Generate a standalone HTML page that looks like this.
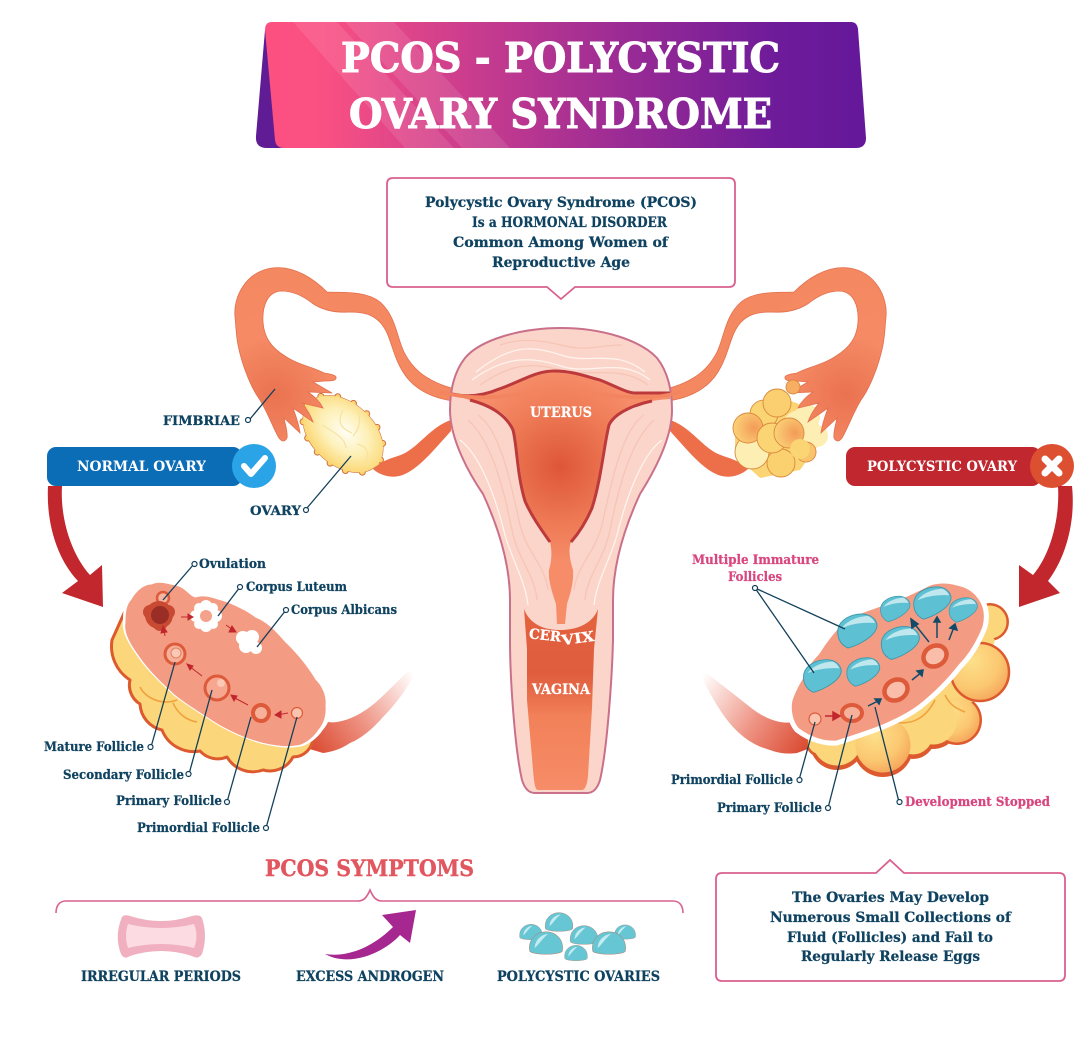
<!DOCTYPE html>
<html><head><meta charset="utf-8"><style>
html,body{margin:0;padding:0;background:#fff}
svg{display:block}
text{font-family:"DejaVu Serif","Liberation Serif",serif;font-weight:700}
.d{fill:#0f4260;font-size:13px;stroke:#0f4260;stroke-width:.25}
.b{fill:#0f4260;font-size:14px;stroke:#0f4260;stroke-width:.25}
.w{fill:#fff;font-size:14px;stroke:#fff;stroke-width:.25}
.p{fill:#d9467f;font-size:13px;stroke:#d9467f;stroke-width:.25}
.l{stroke:#12405a;stroke-width:1.3;fill:none}
.c{stroke:#12405a;stroke-width:1.2;fill:#fff}
.f{stroke:#f6c5b6;stroke-width:1.3;fill:none}
.g{stroke:#fff3ee;stroke-width:1.3;fill:none}
</style></head><body>
<svg width="1079" height="1052" viewBox="0 0 1079 1052" xmlns="http://www.w3.org/2000/svg">
<defs>
<linearGradient id="ban" x1="0" x2="1" y1="0" y2="0"><stop offset="0" stop-color="#fc5080"/><stop offset=".1" stop-color="#f95083"/><stop offset=".35" stop-color="#c83c8e"/><stop offset=".6" stop-color="#9a2b95"/><stop offset=".85" stop-color="#6e1b9a"/><stop offset="1" stop-color="#64189a"/></linearGradient>
<radialGradient id="cav" gradientUnits="userSpaceOnUse" cx="560" cy="467" r="95"><stop offset="0" stop-color="#de5637"/><stop offset=".6" stop-color="#ee7a55"/><stop offset="1" stop-color="#f68c68"/></radialGradient>
<linearGradient id="vag" x1="0" x2="0" y1="0" y2="1"><stop offset="0" stop-color="#e4633f"/><stop offset=".35" stop-color="#df5c3d"/><stop offset=".6" stop-color="#f28159"/><stop offset="1" stop-color="#f68c68"/></linearGradient>
<radialGradient id="tb" gradientUnits="userSpaceOnUse" cx="275" cy="395" r="130"><stop offset="0" stop-color="#ea7250"/><stop offset=".45" stop-color="#f58a65"/><stop offset="1" stop-color="#f48860"/></radialGradient>
<radialGradient id="ov" cx=".5" cy=".45" r=".58"><stop offset="0" stop-color="#fffef4"/><stop offset=".5" stop-color="#fdf0b8"/><stop offset="1" stop-color="#fbd46c"/></radialGradient>
<radialGradient id="yl" cx=".35" cy=".3" r=".8"><stop offset="0" stop-color="#fde08a"/><stop offset=".6" stop-color="#fbc871"/><stop offset="1" stop-color="#f5a058"/></radialGradient>
<radialGradient id="orb" cx=".7" cy=".5" r=".75"><stop offset="0" stop-color="#f49b58"/><stop offset="1" stop-color="#fbd67a"/></radialGradient>
<linearGradient id="st1" gradientUnits="userSpaceOnUse" x1="305" y1="745" x2="412" y2="672"><stop offset="0" stop-color="#d9472d"/><stop offset=".45" stop-color="#ee9080"/><stop offset="1" stop-color="#fff"/></linearGradient>
<linearGradient id="st2" gradientUnits="userSpaceOnUse" x1="812" y1="745" x2="705" y2="672"><stop offset="0" stop-color="#d9472d"/><stop offset=".45" stop-color="#ee9080"/><stop offset="1" stop-color="#fff"/></linearGradient>
<g id="drop"><path d="M-9,17 C-18,13 -20,5 -19,-2 C-17,-12 -5,-17 5,-17 C14,-17 20,-11 20,-5 C19,5 2,14 -9,17Z" fill="#5ec1d3" stroke="#3f98ad" stroke-width="1"/><path d="M-15,-3 C-9,-12 5,-15 11,-15 C14,-14 17,-11 18,-8 C6,-9 -6,-7 -15,-3Z" fill="#bfe7ed"/></g>
<g id="dome"><path d="M-16,8 C-18,-4 -9,-11 0,-11 C9,-11 18,-4 16,8 C13,12 -13,12 -16,8Z" fill="#66c6d4" stroke="#a9806f" stroke-width=".5"/><path d="M-11,5 C-11,-2 -6,-8 2,-9 C-3,-5 -6,0 -11,5Z" fill="#c4ebf0"/></g>
<g id="lt">
<path d="M451,420 C432,426 420,445 405,453 C395,458 385,458 373,469 C382,477 395,479 405,474 C420,467 432,452 451,431Z" fill="#ec6f4a"/>
<path d="M235,317 C233,298 245,272 272,268 C295,265 315,280 327,292 C340,293 365,290 380,302 C396,316 397,338 404,352 C414,372 432,386 470,392 L470,402 C436,402 414,390 403,372 C394,358 391,340 386,331 C378,315 365,312 350,312 C335,313 322,310 312,303 C302,295 292,291 281,291 C268,292 262,305 263,322 C264,338 272,348 285,356 C296,364 315,368 324,373 C330,374 337,375 336,378 C336,381 330,381 325,381 L313,382 L332,393 L308,392 C314,396 320,402 323,408 L302,403 C306,408 311,416 313,422 L293,408 C296,416 299,425 300,433 L284,418 C285,424 288,432 287,438 C285,442 282,442 279,438 C274,430 268,413 260,400 C251,388 242,365 238,345 C236,335 236,326 235,317Z" fill="url(#tb)" stroke="#e2704e" stroke-width=".8"/>
</g>
</defs>

<!-- banner -->
<path d="M265,30 L256,136 Q255,148 267,148 H290 V30Z" fill="#5f1c95"/>
<path d="M272,22 H851 Q857,22 858,29 L866,138 Q866,148 856,148 H284 Q276,148 275,140 L265,30 Q265,22 272,22Z" fill="url(#ban)"/>
<path d="M293,22 H337 L454,148 H405Z" fill="#fff" opacity=".1"/>
<path d="M345,22 H394 L510,148 H462Z" fill="#fff" opacity=".1"/>
<text x="341" y="72" font-size="41" fill="#fff" stroke="#fff" stroke-width="1" textLength="439" lengthAdjust="spacingAndGlyphs">PCOS - POLYCYSTIC</text>
<text x="349" y="128" font-size="41" fill="#fff" stroke="#fff" stroke-width="1" textLength="423" lengthAdjust="spacingAndGlyphs">OVARY SYNDROME</text>

<!-- top info -->
<path d="M393,178 H729 Q735,178 735,184 V281 Q735,287 729,287 H575 L561,299 L547,287 H393 Q387,287 387,281 V184 Q387,178 393,178Z" fill="#fff" stroke="#d9608f" stroke-width="1.8"/>
<text class="b" x="425" y="207" textLength="272" lengthAdjust="spacingAndGlyphs">Polycystic Ovary Syndrome (PCOS)</text>
<text class="b" x="472" y="227" textLength="195" lengthAdjust="spacingAndGlyphs">Is a HORMONAL DISORDER</text>
<text class="b" x="453" y="247" textLength="215" lengthAdjust="spacingAndGlyphs">Common Among Women of</text>
<text class="b" x="492" y="267" textLength="138" lengthAdjust="spacingAndGlyphs">Reproductive Age</text>

<!-- left ovary -->
<g transform="rotate(42 343 434)">
<ellipse cx="343" cy="434" rx="45" ry="30" fill="#cf6d45" stroke="#cf6d45" stroke-width="3"/>
<ellipse cx="343" cy="434" rx="46" ry="31" fill="none" stroke="#cf6d45" stroke-width="7" stroke-linecap="round" stroke-dasharray="0 17"/>
<ellipse cx="343" cy="434" rx="46" ry="31" fill="none" stroke="#fbd46c" stroke-width="5" stroke-linecap="round" stroke-dasharray="0 17"/>
<ellipse cx="343" cy="434" rx="46" ry="31" fill="url(#ov)"/>
</g>
<path d="M343,410 C335,425 345,430 352,433 M322,425 C333,432 345,437 346,448 M356,406 C362,418 360,428 353,436 M357,444 C366,446 370,452 366,462" stroke="#f7e3a0" stroke-width="1.2" fill="none"/>

<!-- right ovary back -->
<path d="M775,395 L815,410 L822,440 L800,470 L760,478 L735,455 L735,425Z" fill="#fbd473"/>
<g fill="#fdeeb4"><circle cx="807" cy="417" r="13"/><circle cx="817" cy="436" r="11"/><circle cx="800" cy="428" r="18"/></g>
<circle cx="806" cy="452" r="10" fill="#f8c56c" stroke="#e08a45" stroke-width="1"/>

<use href="#lt"/>
<use href="#lt" transform="translate(1121,0) scale(-1,1)"/>

<!-- right ovary front -->
<g stroke="#d98a3e" stroke-width=".9">
<circle cx="793" cy="387" r="7" fill="#f7ae62"/>
<circle cx="764" cy="414" r="14" fill="#fbd473"/>
<circle cx="752" cy="452" r="17" fill="#fdeeb4"/>
<circle cx="781" cy="463" r="14" fill="#fbd06f"/>
<circle cx="777" cy="403" r="14" fill="#fbcf6f"/>
<circle cx="748" cy="428" r="15" fill="url(#orb)"/>
<circle cx="772" cy="438" r="15" fill="#fbd473"/>
<circle cx="789" cy="433" r="15" fill="url(#orb)"/>
<circle cx="800" cy="449" r="10" fill="#fbd473" stroke="none"/>
</g>

<!-- uterus -->
<path d="M561,328 C520,328 480,340 465,358 C454,372 450,390 450,410 C450,440 470,475 483,494 C495,520 510,560 510,600 L510,640 C510,680 515,750 522,780 C525,790 530,793 535,793 L587,793 C592,793 597,790 600,780 C607,750 612,680 613,640 L613,600 C613,560 628,520 640,494 C652,475 672,440 672,410 C672,390 668,372 657,358 C640,340 602,328 561,328Z" fill="#fbd5c9" stroke="#c9708a" stroke-width="2"/>
<path class="g" d="M476,372 C510,345 530,345 561,355 C590,365 615,348 645,372 M472,380 C505,356 530,356 561,366 C590,376 620,356 650,380"/>
<path class="f" d="M480,385 C510,364 530,362 561,370 C590,378 620,364 648,385 M500,345 C520,338 540,340 561,345 C585,352 600,345 622,345"/>
<path class="f" d="M468,420 C490,440 502,480 512,530 C518,560 535,575 537,600 M654,420 C632,440 620,480 610,530 C604,560 587,575 585,600"/>
<path class="g" d="M460,440 C480,455 495,495 505,535 C512,560 525,580 528,605 M662,440 C642,455 627,495 617,535 C610,560 597,580 594,605"/>
<path class="f" d="M478,415 C500,430 510,480 520,525 C528,555 545,565 548,590 M644,415 C622,430 612,480 602,525 C594,555 577,565 574,590"/>

<!-- cavity -->
<path d="M466,399 L452,394 C470,398 485,395 499,389 C520,382 535,371 554,371 C575,371 590,378 600,380 C615,386 625,392 634,393 L670,393 L670,399 C655,400 645,402 634,405 C622,409 613,415 609,425 C604,440 602,455 600,467 C598,482 596,497 592,508 C586,522 578,534 571,542 C568,550 570,560 573,570 C574,582 570,595 567,604 L565,624 L557,624 L556,604 C552,592 548,580 549,570 C552,560 552,550 550,542 C540,528 531,515 525,501 C521,480 519,460 516,439 C514,425 507,416 499,411 C488,405 478,402 466,399Z" fill="url(#cav)"/>
<path d="M452,394 C470,398 485,395 499,389 C520,382 535,371 554,371 C575,371 590,378 600,380 C615,386 625,392 634,393 L670,393" fill="none" stroke="#bc3a3c" stroke-width="3"/>
<path d="M470,400 C485,404 505,412 513,430 C517,445 517,475 525,501 C531,515 540,528 550,542" fill="none" stroke="#bc3a3c" stroke-width="3"/>
<path d="M652,401 C637,404 615,412 609,425 C604,445 601,480 592,508 C586,522 578,534 571,542" fill="none" stroke="#bc3a3c" stroke-width="3"/>
<path d="M440,392 C470,400 500,398 540,392 M681,392 C652,400 622,398 582,392" stroke="#f2845f" stroke-width="3.5" fill="none"/>
<!-- vagina -->
<path d="M524,609 C530,625 545,630 560,630 C575,630 592,625 598,609 L594,649 L592,708 L588,776 C587,785 585,790 582,790 L538,790 C535,790 534,782 533,770 L527,700 L527,649 Z" fill="url(#vag)"/>

<text class="w" x="530" y="417" textLength="62" lengthAdjust="spacingAndGlyphs">UTERUS</text>
<text class="w" transform="rotate(6 545 636)" x="529" y="640" textLength="32" lengthAdjust="spacingAndGlyphs">CER</text>
<text class="w" transform="rotate(-8 578 636)" x="561" y="643" textLength="33" lengthAdjust="spacingAndGlyphs">VIX</text>
<text class="w" x="532" y="694" textLength="58" lengthAdjust="spacingAndGlyphs">VAGINA</text>

<!-- fimbriae / ovary labels -->
<text class="d" x="163" y="425" textLength="77" lengthAdjust="spacingAndGlyphs">FIMBRIAE</text>
<path class="l" d="M250,419 L275,389"/><circle class="c" cx="248" cy="420" r="2.5"/>
<text class="d" x="250" y="515" textLength="51" lengthAdjust="spacingAndGlyphs">OVARY</text>
<path class="l" d="M307,508 L351,456"/><circle class="c" cx="306" cy="510" r="2.5"/>

<!-- pills -->
<rect x="47" y="447" width="195" height="39" rx="9" fill="#0c6db7"/>
<text x="77" y="471" font-size="14" fill="#fff" textLength="129" lengthAdjust="spacingAndGlyphs">NORMAL OVARY</text>
<circle cx="254" cy="466" r="22" fill="#2aa4e6"/>
<path d="M244,466 L251,474 L265,458" stroke="#fff" stroke-width="6" fill="none" stroke-linecap="round" stroke-linejoin="round"/>
<rect x="846" y="447" width="195" height="39" rx="9" fill="#c0272f"/>
<text x="867" y="471" font-size="14" fill="#fff" textLength="150" lengthAdjust="spacingAndGlyphs">POLYCYSTIC OVARY</text>
<circle cx="1052" cy="466" r="22" fill="#dc4f30"/>
<path d="M1045,459 L1059,473 M1059,459 L1045,473" stroke="#fff" stroke-width="7" stroke-linecap="round"/>

<!-- red arrows -->
<path d="M48,486 C46,525 58,560 78,581 L62,593 L103,607 L102,565 L90,575 C72,555 60,520 62,486Z" fill="#c1272d"/>
<path d="M1072,486 C1076,525 1064,560 1048,581 L1060,593 L1019,607 L1019,565 L1033,575 C1050,555 1060,520 1058,486Z" fill="#c1272d"/>

<!-- normal ovary diagram -->
<path d="M303,747 L320,718 C325,722 330,723 337,722 C350,720 363,713 375,703 C390,690 400,678 413,667 L413,677 C403,695 392,708 383,717 C370,732 358,740 350,743 C340,750 330,752 323,753Z" fill="url(#st1)"/>
<path d="M130,600 L112,640 A40,40 0 0 0 130,680 A22,22 0 0 0 140,704 A28,28 0 0 0 162,730 A34,34 0 0 0 200,751 A24,24 0 0 0 227,757 A30,30 0 0 0 263,770 A26,26 0 0 0 293,757 A20,20 0 0 0 313,737 L300,700Z" fill="#fbd67a" stroke="#dd5a2e" stroke-width="3" stroke-linejoin="round"/>
<path d="M140,687 C145,697 160,706 177,700 M173,703 C177,712 185,720 197,722" stroke="#f0a03c" stroke-width="1.5" fill="none"/>
<path d="M133,597 C140,585 148,582 153,582 C162,578 170,582 177,583 C187,585 190,593 197,595 C207,592 215,596 223,598 C235,602 248,608 257,615 C270,620 280,632 287,640 C298,650 310,665 317,677 C325,685 328,695 327,703 C328,712 325,722 320,727 C315,735 305,743 297,743 C285,745 272,742 263,740 C245,735 230,728 217,720 C205,712 190,703 177,693 C165,682 150,668 140,653 C132,642 125,630 127,620 C127,610 128,602 133,597Z" fill="#f8bba7" stroke="#fff" stroke-width="8"/>
<path d="M133,597 C140,585 148,582 153,582 C162,578 170,582 177,583 C187,585 190,593 197,595 C207,592 215,596 223,598 C235,602 248,608 257,615 C270,620 280,632 287,640 C298,650 310,665 317,677 C325,685 328,695 327,703 C328,712 325,722 320,727 C315,735 305,743 297,743 C285,745 272,742 263,740 C245,735 230,728 217,720 C205,712 190,703 177,693 C165,682 150,668 140,653 C132,642 125,630 127,620 C127,610 128,602 133,597Z" fill="#f49c83" transform="translate(-1.5,2.5)"/>
<circle cx="163" cy="598" r="6" fill="#f7b5a0" stroke="#dd5a3a" stroke-width="2.5"/>
<g fill="#c94a32"><circle cx="159" cy="615" r="14"/><circle cx="150" cy="612" r="7"/><circle cx="168" cy="612" r="7"/><circle cx="160" cy="624" r="7"/></g>
<circle cx="160" cy="615" r="9" fill="#9a2e26"/>
<g fill="#fff"><circle cx="206" cy="616" r="12"/><circle cx="196" cy="616" r="6"/><circle cx="216" cy="616" r="6"/><circle cx="206" cy="606" r="6"/><circle cx="206" cy="626" r="6"/><circle cx="199" cy="608" r="5"/><circle cx="213" cy="608" r="5"/><circle cx="199" cy="624" r="5"/><circle cx="213" cy="624" r="5"/></g>
<circle cx="206" cy="616" r="6" fill="#f4a28b"/>
<g fill="#fff"><circle cx="243" cy="638" r="7"/><circle cx="252" cy="637" r="7"/><circle cx="246" cy="646" r="7"/><circle cx="256" cy="648" r="6"/></g>
<circle cx="175" cy="654" r="10" fill="#f7b09a" stroke="#dd5a3a" stroke-width="3"/><circle cx="176" cy="653" r="5" fill="#fbc8b5" stroke="#e07f62"/>
<circle cx="217" cy="688" r="12" fill="#f7a68f" stroke="#dd5a3a" stroke-width="3"/><circle cx="221" cy="683" r="4" fill="#fbc8b5"/>
<circle cx="261" cy="713" r="8" fill="#f7b09a" stroke="#dd5a3a" stroke-width="4"/>
<circle cx="297" cy="713" r="5.5" fill="#f9c3ae" stroke="#dd5a3a" stroke-width="1.2"/>
<g fill="#c1272d" stroke="#c1272d"><path d="M181,617 L190,617 M188,614 L193,617 L188,620Z"/><path d="M226,625 L233,630 M232,626 L236,632 L229,632Z"/><path d="M165,636 L164,630 M161,633 L163,626 L167,632Z"/><path d="M202,676 L189,666 M193,666 L187,664 L190,670Z"/><path d="M248,705 L233,697 M237,696 L231,695 L234,701Z"/><path d="M288,713 L277,715 M281,711 L275,715 L281,718Z"/></g>
<path class="l" d="M163,600 L194,564"/><circle class="c" cx="194.5" cy="564" r="2.5"/>
<path class="l" d="M218,616 L240,587"/><circle class="c" cx="240" cy="587" r="2.5"/>
<path class="l" d="M257,647 L286,610"/><circle class="c" cx="286" cy="610" r="2.5"/>
<path class="l" d="M175,662 L151,747"/><circle class="c" cx="150.5" cy="747" r="2.5"/>
<path class="l" d="M212,690 L189,774"/><circle class="c" cx="188.5" cy="774" r="2.5"/>
<path class="l" d="M251,717 L227,802"/><circle class="c" cx="227" cy="802" r="2.5"/>
<path class="l" d="M297,717 L266,828"/><circle class="c" cx="266" cy="828" r="2.5"/>
<text class="d" x="199" y="568" textLength="67" lengthAdjust="spacingAndGlyphs">Ovulation</text>
<text class="d" x="246" y="591" textLength="101" lengthAdjust="spacingAndGlyphs">Corpus Luteum</text>
<text class="d" x="291" y="614" textLength="106" lengthAdjust="spacingAndGlyphs">Corpus Albicans</text>
<text class="d" x="44" y="751" textLength="100" lengthAdjust="spacingAndGlyphs">Mature Follicle</text>
<text class="d" x="63" y="779" textLength="121" lengthAdjust="spacingAndGlyphs">Secondary Follicle</text>
<text class="d" x="116" y="805" textLength="106" lengthAdjust="spacingAndGlyphs">Primary Follicle</text>
<text class="d" x="137" y="832" textLength="123" lengthAdjust="spacingAndGlyphs">Primordial Follicle</text>

<!-- polycystic diagram -->
<path d="M813,747 L797,720 C792,723 786,723 780,722 C770,720 760,715 750,707 C735,695 718,682 703,670 L703,680 C712,698 722,715 733,727 C745,740 758,747 770,750 C780,754 790,754 797,753Z" fill="url(#st2)"/>
<g fill="#dd5a2e"><circle cx="990" cy="622" r="19"/><circle cx="957" cy="720" r="25"/><circle cx="933" cy="723" r="26"/><circle cx="913" cy="737" r="22"/><circle cx="883" cy="747" r="30"/><circle cx="837" cy="743" r="27"/><circle cx="820" cy="743" r="14"/></g>
<path d="M960,600 L995,640 L975,700 L900,750 L830,750 L810,740Z" fill="#fbd67a"/>
<circle cx="990" cy="622" r="16.5" fill="#fbd67a"/>
<circle cx="957" cy="720" r="22.5" fill="url(#yl)"/>
<g fill="#fbd67a"><circle cx="933" cy="721" r="23.5"/><circle cx="913" cy="735" r="19.5"/><circle cx="837" cy="741" r="24.5"/><circle cx="820" cy="742" r="12"/></g>
<circle cx="883" cy="745" r="27.5" fill="url(#yl)"/>
<circle cx="980" cy="672" r="29" fill="url(#yl)" stroke="#dd5a2e" stroke-width="2.5"/>
<path d="M935,700 C925,720 910,725 895,722 M945,695 C950,705 955,708 965,712" stroke="#f0a03c" stroke-width="1.5" fill="none"/>
<path d="M790,700 C795,685 800,680 803,673 C810,660 812,658 817,653 C825,640 835,628 843,620 C855,612 870,608 883,603 C900,598 915,590 930,583 C940,580 950,581 957,583 C968,585 975,590 980,597 C986,605 988,615 985,627 C980,640 972,655 960,667 C950,680 935,695 920,707 C908,716 895,722 883,727 C868,733 852,738 837,743 C825,744 810,740 797,730 C790,722 788,710 790,700Z" fill="#f49c83" stroke="#fff" stroke-width="5"/>
<use href="#drop" transform="translate(857,631)"/>
<use href="#drop" transform="translate(895,609) scale(.75)"/>
<use href="#drop" transform="translate(932,603) scale(.95)"/>
<use href="#drop" transform="translate(963,610) scale(.72)"/>
<use href="#drop" transform="translate(900,643) scale(.97)"/>
<use href="#drop" transform="translate(863,672) scale(.84)"/>
<use href="#drop" transform="translate(822,676) scale(.96)"/>
<circle cx="815" cy="719" r="6" fill="#f9c3ae" stroke="#dd5a3a" stroke-width="1.2"/>
<ellipse cx="852" cy="713" rx="10" ry="8" fill="#f7b09a" stroke="#dd5a3a" stroke-width="4"/>
<ellipse cx="896" cy="690" rx="12" ry="10" transform="rotate(-30 896 690)" fill="#f9bdaa" stroke="#dd5a3a" stroke-width="4.5"/>
<ellipse cx="935" cy="656" rx="12" ry="10" transform="rotate(-30 935 656)" fill="#f9bdaa" stroke="#dd5a3a" stroke-width="4.5"/>
<path d="M825,716 L835,716 M833,712 L840,716 L833,720Z" stroke="#c1272d" fill="#c1272d" stroke-width="1.5"/>
<g stroke="#124a6a" fill="#124a6a" stroke-width="1.5"><path d="M868,706 L880,700 M875,699 L881,699 L879,704Z"/><path d="M912,680 L922,672 M917,671 L923,670 L922,676Z"/><path d="M929,642 L913,622 M912,628 L911,619 L918,624Z"/><path d="M937,638 L937,620 M934,622 L937,617 L940,622Z"/><path d="M949,640 L954,627 M950,628 L955,624 L957,630Z"/></g>
<path class="l" d="M755,588 L845,629 M755,588 L814,673"/><circle class="c" cx="755" cy="588" r="2.5"/>
<path class="l" d="M815,722 L799,780"/><circle class="c" cx="799.5" cy="780" r="2.5"/>
<path class="l" d="M852,715 L828,808"/><circle class="c" cx="828" cy="808" r="2.5"/>
<path class="l" d="M875,707 L899,802"/><circle class="c" cx="899.5" cy="802" r="2.5"/>
<text class="p" x="692" y="564" textLength="127" lengthAdjust="spacingAndGlyphs">Multiple Immature</text>
<text class="p" x="728" y="581" textLength="54" lengthAdjust="spacingAndGlyphs">Follicles</text>
<text class="d" x="671" y="784" textLength="122" lengthAdjust="spacingAndGlyphs">Primordial Follicle</text>
<text class="d" x="717" y="812" textLength="105" lengthAdjust="spacingAndGlyphs">Primary Follicle</text>
<text class="p" x="905" y="806" textLength="145" lengthAdjust="spacingAndGlyphs">Development Stopped</text>

<!-- symptoms -->
<text x="265" y="876" font-size="22" fill="#e2565f" stroke="#e2565f" stroke-width=".4" textLength="209" lengthAdjust="spacingAndGlyphs">PCOS SYMPTOMS</text>
<path d="M56,913 C56,905 60,901 66,901 H358 C364,901 367,897 370,890 C373,897 376,901 382,901 H673 C679,901 683,905 683,913" fill="none" stroke="#d9608f" stroke-width="1.6"/>
<path d="M122,917 Q124,914 130,916 Q161,926 192,916 Q200,914 202,918 Q208,936 202,954 Q198,960 192,956 Q161,946 130,956 Q124,960 121,954 Q114,936 122,917Z" fill="#f0b0bf"/>
<path d="M128,924 Q161,932 194,924 Q199,936 194,948 Q161,940 128,948 Q124,936 128,924Z" fill="#fcdbe3"/>
<path d="M325,954 C350,958 375,945 393,927 L382,915 L416,910 L410,943 L400,935 C385,952 350,968 325,954Z" fill="#a5278f"/>
<use href="#dome" transform="translate(531,932) scale(.7)"/>
<use href="#dome" transform="translate(559,922) scale(.85)"/>
<use href="#dome" transform="translate(625,932) scale(.65)"/>
<use href="#dome" transform="translate(584,935) scale(.85)"/>
<use href="#dome" transform="translate(546,943) scale(1.02)"/>
<use href="#dome" transform="translate(609,943) scale(1.02)"/>
<use href="#dome" transform="translate(576,953) scale(.7)"/>
<text class="b" x="81" y="981" textLength="160" lengthAdjust="spacingAndGlyphs">IRREGULAR PERIODS</text>
<text class="b" x="296" y="981" textLength="148" lengthAdjust="spacingAndGlyphs">EXCESS ANDROGEN</text>
<text class="b" x="497" y="981" textLength="163" lengthAdjust="spacingAndGlyphs">POLYCYSTIC OVARIES</text>

<!-- bottom box -->
<path d="M722,873 H876 L890,860 L904,873 H1059 Q1065,873 1065,879 V975 Q1065,981 1059,981 H722 Q716,981 716,975 V879 Q716,873 722,873Z" fill="#fff" stroke="#d9608f" stroke-width="1.8"/>
<text class="b" x="792" y="902" textLength="197" lengthAdjust="spacingAndGlyphs">The Ovaries May Develop</text>
<text class="b" x="770" y="922" textLength="241" lengthAdjust="spacingAndGlyphs">Numerous Small Collections of</text>
<text class="b" x="787" y="942" textLength="206" lengthAdjust="spacingAndGlyphs">Fluid (Follicles) and Fail to</text>
<text class="b" x="801" y="961" textLength="179" lengthAdjust="spacingAndGlyphs">Regularly Release Eggs</text>
</svg>
</body></html>
